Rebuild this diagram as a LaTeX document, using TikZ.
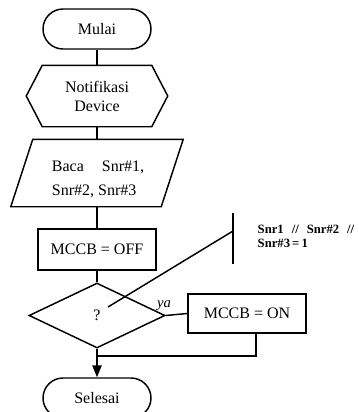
\documentclass[tikz,border=0pt]{standalone}
\usepackage{fontspec}
\setmainfont{Liberation Serif}
\usetikzlibrary{shapes.geometric,shapes.misc,arrows.meta}
\tikzset{
  terminal/.style={draw,rounded rectangle,minimum width=81pt,minimum height=30pt,inner sep=0pt},
  proses/.style={draw,rectangle,minimum width=88.5pt,inner sep=0pt},
  bentuk/.style={draw=none,inner sep=0pt},
}
\begin{document}
\begin{tikzpicture}[x=0.75pt,y=-0.75pt,line width=1.1pt,font=\fontsize{12}{14}\selectfont]
  \useasboundingbox (0,0) rectangle (359,412);
  % simbol
  \node[terminal] (mulai) at (97,29) {Mulai};
  \node[bentuk,align=center,minimum width=81pt,minimum height=45pt,font=\fontsize{12}{14.25}\selectfont] (notif) at (97,96) {Notifikasi\\Device};
  \draw (notif.north west) -- (notif.north east) -- ([xshift=12pt]notif.east) -- (notif.south east) -- (notif.south west) -- ([xshift=-12pt]notif.west) -- cycle;
  \node[bentuk,minimum width=111.75pt,minimum height=49.5pt] (baca) at (97,173) {};
  \draw ([xshift=8.25pt]baca.north west) -- ([xshift=8.25pt]baca.north east) -- ([xshift=-8.25pt]baca.south east) -- ([xshift=-8.25pt]baca.south west) -- cycle;
  \node[bentuk,align=left,font=\fontsize{12}{18}\selectfont] (bacateks) at (98,179) {Baca\hspace*{13.5pt}Snr\#1,\\Snr\#2, Snr\#3};
  \node[proses,minimum height=30.75pt] (off) at (97,249.5) {MCCB = OFF};
  \node[draw,diamond,minimum width=102pt,minimum height=48.75pt,inner sep=0pt] (cek) at (97,315.5) {?};
  \node[proses,minimum height=29.25pt] (on) at (247,313.5) {MCCB = ON};
  \node[terminal] (selesai) at (97,398) {Selesai};
  \node[bentuk,font=\itshape\fontsize{11}{13}\selectfont] (ya) at (164,306) {ya};
  % garis
  \draw (mulai.south) -- (notif.north);
  \draw (notif.south) -- (baca.north);
  \draw (baca.south) -- (off.north);
  \draw (off.south) -- (cek.north);
  \draw (cek.east) -- (on.west);
  \draw[-{Triangle[length=9pt,width=7pt]}] (cek.south) -- (selesai.north);
  \coordinate (gabung) at (97,356);
  \draw ([xshift=6.75pt]on.south) |- (gabung);
  % keterangan
  \coordinate (catatan) at (233,231);
  \coordinate (tanya) at (108,307);
  \draw (233,213) -- (233,264);
  \draw (catatan) -- (tanya);
  \node[bentuk,anchor=west,align=left,font=\bfseries\fontsize{9.5}{10}\selectfont] (ket) at (257,236.5) {Snr1\hspace*{6pt}//\hspace*{6pt}Snr\#2\hspace*{6pt}//\\Snr\#3\,=\,1};
\end{tikzpicture}
\end{document}
